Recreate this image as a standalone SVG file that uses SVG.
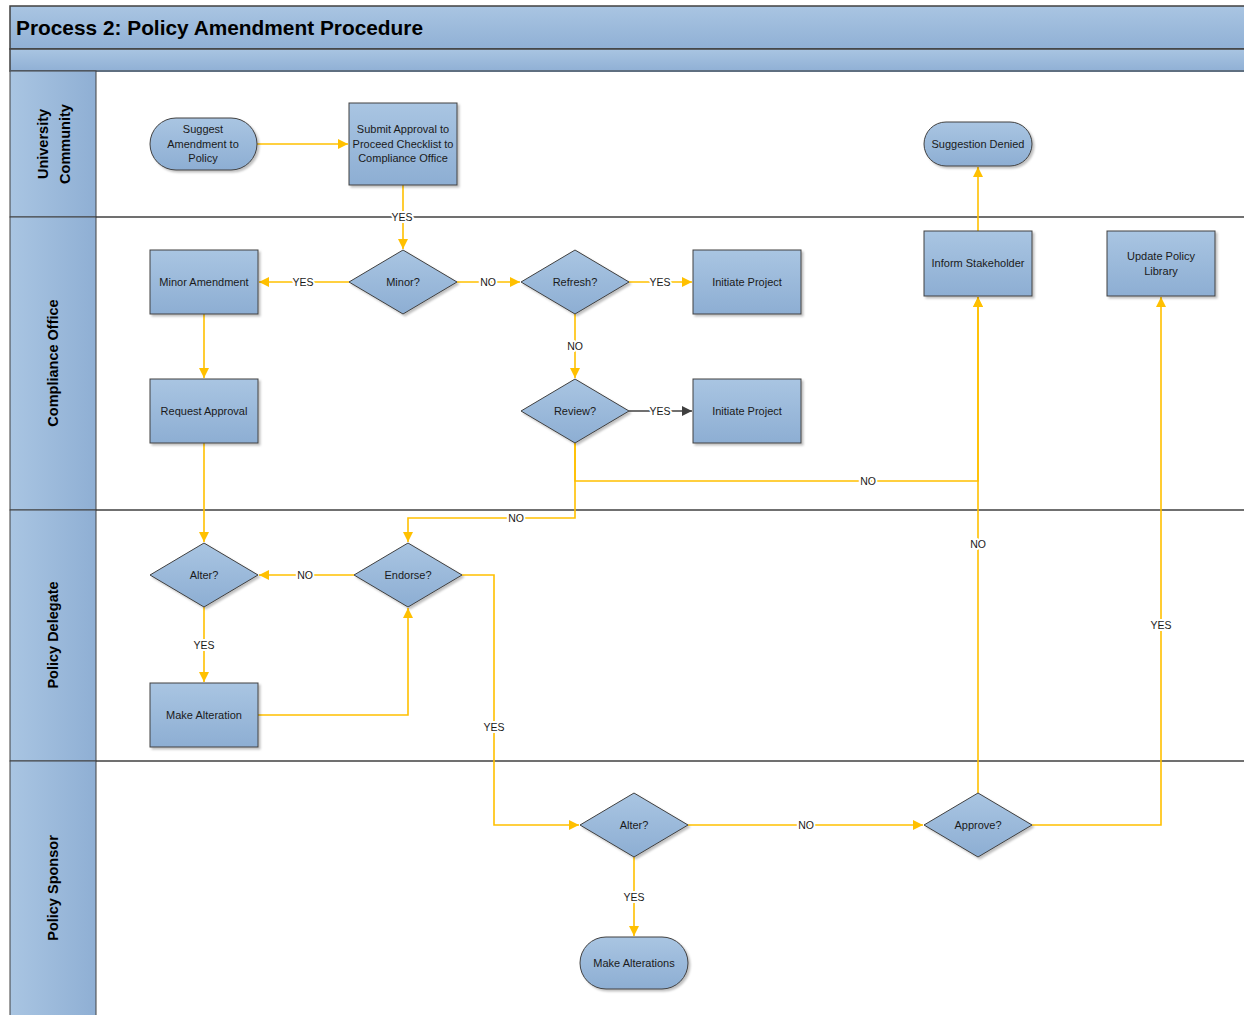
<svg xmlns="http://www.w3.org/2000/svg" width="1244" height="1015" viewBox="0 0 1244 1015">
<defs>
<linearGradient id="gNode" x1="0" y1="0" x2="0" y2="1">
<stop offset="0" stop-color="#a9c5e2"/><stop offset="1" stop-color="#8daed3"/>
</linearGradient>
<linearGradient id="gLane" x1="0" y1="0" x2="1" y2="0">
<stop offset="0" stop-color="#a9c5e2"/><stop offset="1" stop-color="#8fafd4"/>
</linearGradient>
<linearGradient id="gBand" x1="0" y1="0" x2="0" y2="1">
<stop offset="0" stop-color="#a9c5e2"/><stop offset="1" stop-color="#90b0d5"/>
</linearGradient>
<filter id="sh" x="-10%" y="-10%" width="130%" height="130%">
<feDropShadow dx="2" dy="2" stdDeviation="1.2" flood-color="#000" flood-opacity="0.25"/>
</filter>
<marker id="ay" viewBox="0 0 10 10" refX="10" refY="5" markerWidth="10" markerHeight="10" markerUnits="userSpaceOnUse" orient="auto">
<path d="M0,0 L10,5 L0,10 z" fill="#ffc000"/>
</marker>
<marker id="ad" viewBox="0 0 10 10" refX="10" refY="5" markerWidth="10" markerHeight="10" markerUnits="userSpaceOnUse" orient="auto">
<path d="M0,0 L10,5 L0,10 z" fill="#404040"/>
</marker>
</defs>
<style>
.node{fill:url(#gNode);stroke:#404040;stroke-width:1;filter:url(#sh)}
.nt{font-family:"Liberation Sans",Arial,sans-serif;font-size:11px;fill:#1a1a1a;text-anchor:middle}
.lane{fill:url(#gLane);stroke:#404040;stroke-width:1}
.lt{font-family:"Liberation Sans",Arial,sans-serif;font-size:14.5px;font-weight:bold;fill:#000;text-anchor:middle}
.sep{stroke:#404040;stroke-width:1.5;fill:none}
.c{stroke:#ffc000;stroke-width:1.6;fill:none;marker-end:url(#ay)}
.cn{stroke:#ffc000;stroke-width:1.6;fill:none}
.cd{stroke:#404040;stroke-width:1.4;fill:none;marker-end:url(#ad)}
.lab{font-family:"Liberation Sans",Arial,sans-serif;font-size:10.5px;fill:#1a1a1a;text-anchor:middle;stroke:#fff;stroke-width:4;paint-order:stroke;stroke-linejoin:round}
</style>

<g id="frame">
<rect x="10" y="6" width="1240" height="43" fill="url(#gBand)" stroke="#404040" stroke-width="1.5"/>
<rect x="10" y="49" width="1240" height="22" fill="url(#gBand)" stroke="#404040" stroke-width="1.5"/>
<line x1="10" y1="71" x2="1244" y2="71" stroke="#5f6f80" stroke-width="2"/>
<text x="16" y="35" font-family="'Liberation Sans',Arial,sans-serif" font-size="20.5" font-weight="bold" fill="#000" textLength="407" lengthAdjust="spacingAndGlyphs">Process 2: Policy Amendment Procedure</text>
</g>

<g id="lanes">
<g id="lane-university">
<rect class="lane" x="10" y="71" width="86" height="146"/>
<text class="lt" transform="translate(48,144) rotate(-90)">University</text>
<text class="lt" transform="translate(70,144) rotate(-90)">Community</text>
</g>
<g id="lane-compliance">
<rect class="lane" x="10" y="217" width="86" height="293"/>
<text class="lt" transform="translate(58,363) rotate(-90)">Compliance Office</text>
</g>
<g id="lane-delegate">
<rect class="lane" x="10" y="510" width="86" height="251"/>
<text class="lt" transform="translate(58,635) rotate(-90)">Policy Delegate</text>
</g>
<g id="lane-sponsor">
<rect class="lane" x="10" y="761" width="86" height="260"/>
<text class="lt" transform="translate(58,888) rotate(-90)">Policy Sponsor</text>
</g>
<line class="sep" x1="96" y1="217" x2="1244" y2="217"/>
<line class="sep" x1="96" y1="510" x2="1244" y2="510"/>
<line class="sep" x1="96" y1="761" x2="1244" y2="761"/>
</g>

<g id="connectors">
<path class="c" d="M257,144 H348"/>
<path class="c" d="M403,185 V249"/>
<path class="c" d="M349,282 H259"/>
<path class="c" d="M457,282 H520"/>
<path class="c" d="M629,282 H692"/>
<path class="c" d="M575,314 V378"/>
<path class="cd" d="M629,411 H692"/>
<path class="c" d="M575,443 V481 H978 V297"/>
<path class="c" d="M575,443 V518 H408 V542"/>
<path class="c" d="M204,314 V378"/>
<path class="c" d="M204,443 V542"/>
<path class="c" d="M354,575 H259"/>
<path class="c" d="M204,607 V682"/>
<path class="c" d="M258,715 H408 V608"/>
<path class="c" d="M462,575 H494 V825 H579"/>
<path class="c" d="M688,825 H923"/>
<path class="c" d="M634,857 V936"/>
<path class="c" d="M978,793 V297"/>
<path class="c" d="M1032,825 H1161 V297"/>
<path class="c" d="M978,231 V167"/>
<text class="lab" x="402" y="221">YES</text>
<text class="lab" x="303" y="286">YES</text>
<text class="lab" x="488" y="286">NO</text>
<text class="lab" x="660" y="286">YES</text>
<text class="lab" x="575" y="350">NO</text>
<text class="lab" x="660" y="415">YES</text>
<text class="lab" x="868" y="485">NO</text>
<text class="lab" x="516" y="522">NO</text>
<text class="lab" x="305" y="579">NO</text>
<text class="lab" x="204" y="649">YES</text>
<text class="lab" x="494" y="731">YES</text>
<text class="lab" x="806" y="829">NO</text>
<text class="lab" x="634" y="901">YES</text>
<text class="lab" x="978" y="548">NO</text>
<text class="lab" x="1161" y="629">YES</text>
</g>

<g id="n-suggest">
<rect class="node" x="150" y="118" width="107" height="52" rx="26"/>
<text class="nt" x="203" y="133">Suggest</text>
<text class="nt" x="203" y="148">Amendment to</text>
<text class="nt" x="203" y="162">Policy</text>
</g>
<g id="n-submit">
<rect class="node" x="349" y="103" width="108" height="82"/>
<text class="nt" x="403" y="133">Submit Approval to</text>
<text class="nt" x="403" y="148">Proceed Checklist to</text>
<text class="nt" x="403" y="162">Compliance Office</text>
</g>
<g id="n-denied">
<rect class="node" x="924" y="122" width="108" height="44" rx="22"/>
<text class="nt" x="978" y="148">Suggestion Denied</text>
</g>
<g id="n-minor-amend">
<rect class="node" x="150" y="250" width="108" height="64"/>
<text class="nt" x="204" y="286">Minor Amendment</text>
</g>
<g id="n-minor">
<polygon class="node" points="403,250 457,282 403,314 349,282"/>
<text class="nt" x="403" y="286">Minor?</text>
</g>
<g id="n-refresh">
<polygon class="node" points="575,250 629,282 575,314 521,282"/>
<text class="nt" x="575" y="286">Refresh?</text>
</g>
<g id="n-initiate1">
<rect class="node" x="693" y="250" width="108" height="64"/>
<text class="nt" x="747" y="286">Initiate Project</text>
</g>
<g id="n-request">
<rect class="node" x="150" y="379" width="108" height="64"/>
<text class="nt" x="204" y="415">Request Approval</text>
</g>
<g id="n-review">
<polygon class="node" points="575,379 629,411 575,443 521,411"/>
<text class="nt" x="575" y="415">Review?</text>
</g>
<g id="n-initiate2">
<rect class="node" x="693" y="379" width="108" height="64"/>
<text class="nt" x="747" y="415">Initiate Project</text>
</g>
<g id="n-inform">
<rect class="node" x="924" y="231" width="108" height="65"/>
<text class="nt" x="978" y="267">Inform Stakeholder</text>
</g>
<g id="n-update">
<rect class="node" x="1107" y="231" width="108" height="65"/>
<text class="nt" x="1161" y="260">Update Policy</text>
<text class="nt" x="1161" y="275">Library</text>
</g>
<g id="n-alter1">
<polygon class="node" points="204,543 258,575 204,607 150,575"/>
<text class="nt" x="204" y="579">Alter?</text>
</g>
<g id="n-endorse">
<polygon class="node" points="408,543 462,575 408,607 354,575"/>
<text class="nt" x="408" y="579">Endorse?</text>
</g>
<g id="n-make-alteration">
<rect class="node" x="150" y="683" width="108" height="64"/>
<text class="nt" x="204" y="719">Make Alteration</text>
</g>
<g id="n-alter2">
<polygon class="node" points="634,793 688,825 634,857 580,825"/>
<text class="nt" x="634" y="829">Alter?</text>
</g>
<g id="n-approve">
<polygon class="node" points="978,793 1032,825 978,857 924,825"/>
<text class="nt" x="978" y="829">Approve?</text>
</g>
<g id="n-make-alterations">
<rect class="node" x="580" y="937" width="108" height="52" rx="26"/>
<text class="nt" x="634" y="967">Make Alterations</text>
</g>
</svg>
